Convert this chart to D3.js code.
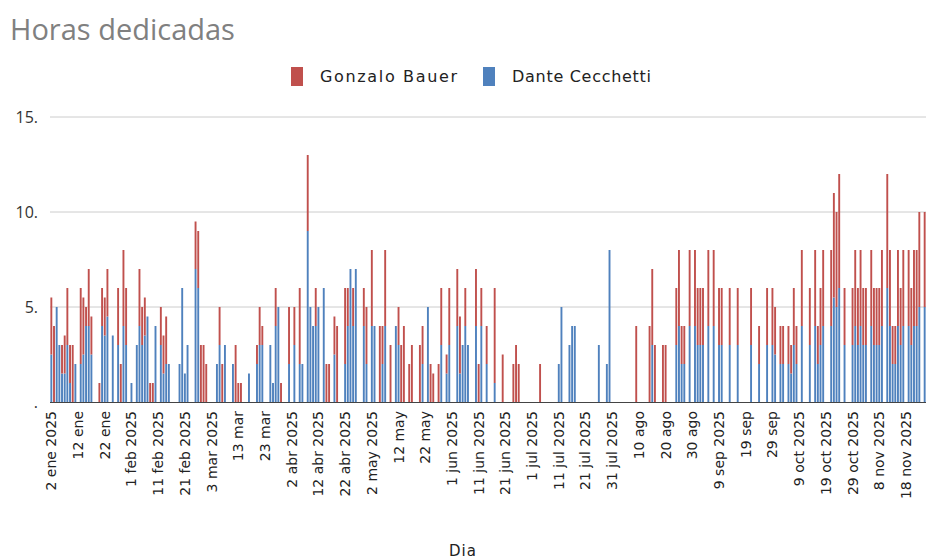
<!DOCTYPE html>
<html>
<head>
<meta charset="utf-8">
<script src="https://cdn.jsdelivr.net/npm/d3@7"></script>
<style>
  body { margin: 0; background: #fff; }
  svg { display: block; }
</style>
</head>
<body>
<script>
// dias desde el 2 ene 2025 con horas registradas
const dias = [0,1,2,3,4,5,6,7,8,9,11,12,13,14,15,18,19,20,21,23,25,26,27,28,30,32,33,34,35,36,37,38,39,41,42,43,44,48,49,50,51,54,55,56,57,58,62,63,64,65,68,69,70,71,74,77,78,79,82,83,84,85,86,89,91,93,94,96,97,98,99,100,102,103,104,106,107,110,111,112,113,114,117,118,120,121,123,124,125,127,129,130,131,132,134,135,138,139,141,142,143,145,146,148,149,152,153,154,155,156,159,160,161,163,166,169,173,174,175,183,190,191,194,195,196,205,208,209,219,224,225,226,229,230,234,235,236,237,239,241,242,243,244,246,248,250,251,254,257,262,265,268,270,271,273,274,276,277,278,279,281,284,286,287,288,289,292,293,294,295,297,300,301,302,303,304,305,307,308,309,310,311,313,314,315,316,317,318,319,321,322,323,324,325,327];
const gonzalo = [3,4,0,0,1.5,2,3,2,3,0,4,3,1,3,2,1,2,2,2.5,0,3,2,4,3,0,0,3,2,2,0,1,1,0,2,2,2.5,0,0,0,0,0,2.5,3,3,3,2,0,2,2,0,0,3,1,1,0,1,2,1,0,0,2,0,1,3,2,4,0,4,0,0,2,0,0,2,2,2,4,4,2,0,2,0,2,3,4,0,4,2,4,3,0,2,3,4,2,3,3,2,0,2,1.5,2,3,1,3,3,3,0,2,0,3,2,2,2,5,2.5,2,3,2,2,0,0,0,0,0,0,0,0,4,4,4,3,3,3,3,4,2,2,4,4,3,3,3,4,4,3,3,3,3,3,2,3,3,2.5,2,2,2,1.5,3,2,4,3,4,2,3,4,4,5.5,5,6,3,3,4,3,4,3,3,4,3,3,3,4,6,4,2,2,4,3,4,4,3,4,4,5,5];
const dante = [2.5,0,5,3,1.5,1.5,3,1,0,2,2,2.5,4,4,2.5,0,4,3.5,4.5,3.5,3,0,4,3,1,3,4,3,3.5,4.5,0,0,4,3,1.5,2,2,2,6,1.5,3,7,6,0,0,0,2,3,0,3,2,0,0,0,1.5,2,3,3,3,1,4,5,0,2,3,2,2,9,5,4,4,5,6,0,0,2.5,0,2,4,7,4,7,4,2,4,4,0,2,4,0,4,3,0,0,0,0,0,2,5,0,0,0,3,1.5,3,4,1.5,3,4,3,4,0,4,2,1,0,0,0,0,0,2,5,3,4,4,3,2,8,0,0,3,0,0,0,3,4,2,2,4,4,3,3,3,4,4,3,3,3,3,3,2,3,3,2.5,2,2,2,1.5,3,2,4,3,4,2,3,4,4,5.5,5,6,3,3,4,3,4,3,3,4,3,3,3,4,6,4,2,2,4,3,4,4,3,4,4,5,5];

const etiquetasX = ["2 ene 2025","12 ene","22 ene","1 feb 2025","11 feb 2025","21 feb 2025","3 mar 2025","13 mar","23 mar","2 abr 2025","12 abr 2025","22 abr 2025","2 may 2025","12 may","22 may","1 jun 2025","11 jun 2025","21 jun 2025","1 jul 2025","11 jul 2025","21 jul 2025","31 jul 2025","10 ago","20 ago","30 ago","9 sep 2025","19 sep","29 sep","9 oct 2025","19 oct 2025","29 oct 2025","8 nov 2025","18 nov 2025"];
const ticksY = [0, 5, 10, 15];
const etiquetasY = [".", "5.", "10.", "15."];
const series = ["Gonzalo Bauer", "Dante Cecchetti"];
const colores = ["#c0504d", "#4f81bd"];

const inicio = new Date(2025, 0, 2);
const fin = new Date(2025, 10, 26);

const w = 926, h = 559;
const svg = d3.select("body").append("svg").attr("width", w).attr("height", h);

const x = d3.scaleTime().domain([inicio, fin]).range([50, 926]);
const y = d3.scaleLinear().domain([0, 15]).range([402, 117]);
const dia = x(d3.timeDay.offset(inicio, 1)) - x(inicio);

// titulo
svg.append("text")
    .attr("x", 10).attr("y", 40)
    .attr("font-family", "Open Sans, sans-serif")
    .attr("font-size", 29)
    .attr("fill", "#808080")
    .text("Horas dedicadas");

// leyenda
const leyX = [291, 483];
const leyW = [137, 139];
series.forEach(function(s, i) {
    svg.append("rect")
        .attr("x", leyX[i]).attr("y", 67)
        .attr("width", 12).attr("height", 19)
        .attr("fill", colores[i]);
    svg.append("text")
        .attr("x", leyX[i] + 29).attr("y", 82)
        .attr("font-family", "DejaVu Sans, sans-serif")
        .attr("font-size", 16)
        .attr("textLength", leyW[i])
        .attr("lengthAdjust", "spacing")
        .attr("fill", "#222")
        .text(s);
});

// grid
svg.append("g").selectAll("line")
    .data(ticksY.slice(1))
    .enter().append("line")
    .attr("x1", 50).attr("x2", 926)
    .attr("y1", d => y(d)).attr("y2", d => y(d))
    .attr("stroke", "#cccccc").attr("stroke-width", 1);

svg.append("g").selectAll("text")
    .data(ticksY)
    .enter().append("text")
    .attr("x", 38).attr("y", d => y(d) + 6)
    .attr("text-anchor", "end")
    .attr("font-family", "Open Sans, sans-serif")
    .attr("font-size", 16)
    .attr("fill", "#333")
    .text((d, i) => etiquetasY[i]);

// barras apiladas: Dante abajo, Gonzalo arriba
const filas = dias.map(function(d, i) {
    return { fecha: d3.timeDay.offset(inicio, d), dante: dante[i], gonzalo: gonzalo[i] };
});
const bw = 1.9;
const barras = svg.append("g");
barras.selectAll(".dante")
    .data(filas.filter(d => d.dante > 0))
    .enter().append("rect")
    .attr("x", d => x(d.fecha) + dia / 2 - bw / 2)
    .attr("y", d => y(d.dante))
    .attr("width", bw)
    .attr("height", d => y(0) - y(d.dante))
    .attr("fill", colores[1]);
barras.selectAll(".gonzalo")
    .data(filas.filter(d => d.gonzalo > 0))
    .enter().append("rect")
    .attr("x", d => x(d.fecha) + dia / 2 - bw / 2)
    .attr("y", d => y(d.dante + d.gonzalo))
    .attr("width", bw)
    .attr("height", d => y(d.dante) - y(d.dante + d.gonzalo))
    .attr("fill", colores[0]);

// eje x
svg.append("line")
    .attr("x1", 50).attr("x2", 926)
    .attr("y1", y(0) + 0.5).attr("y2", y(0) + 0.5)
    .attr("stroke", "#444").attr("stroke-width", 1);

svg.append("g").selectAll("text")
    .data(etiquetasX)
    .enter().append("text")
    .attr("transform", function(d, i) {
        let cx = x(d3.timeDay.offset(inicio, i * 10)) + dia / 2;
        return "translate(" + (cx + 5) + ",411) rotate(-90)";
    })
    .attr("text-anchor", "end")
    .attr("font-family", "DejaVu Sans, sans-serif")
    .attr("font-size", 14)
    .attr("fill", "#222")
    .text(d => d);

svg.append("text")
    .attr("x", 463).attr("y", 556)
    .attr("text-anchor", "middle")
    .attr("font-family", "DejaVu Sans, sans-serif")
    .attr("font-size", 15)
    .attr("letter-spacing", 1)
    .attr("fill", "#222")
    .text("Dia");
</script>
</body>
</html>
